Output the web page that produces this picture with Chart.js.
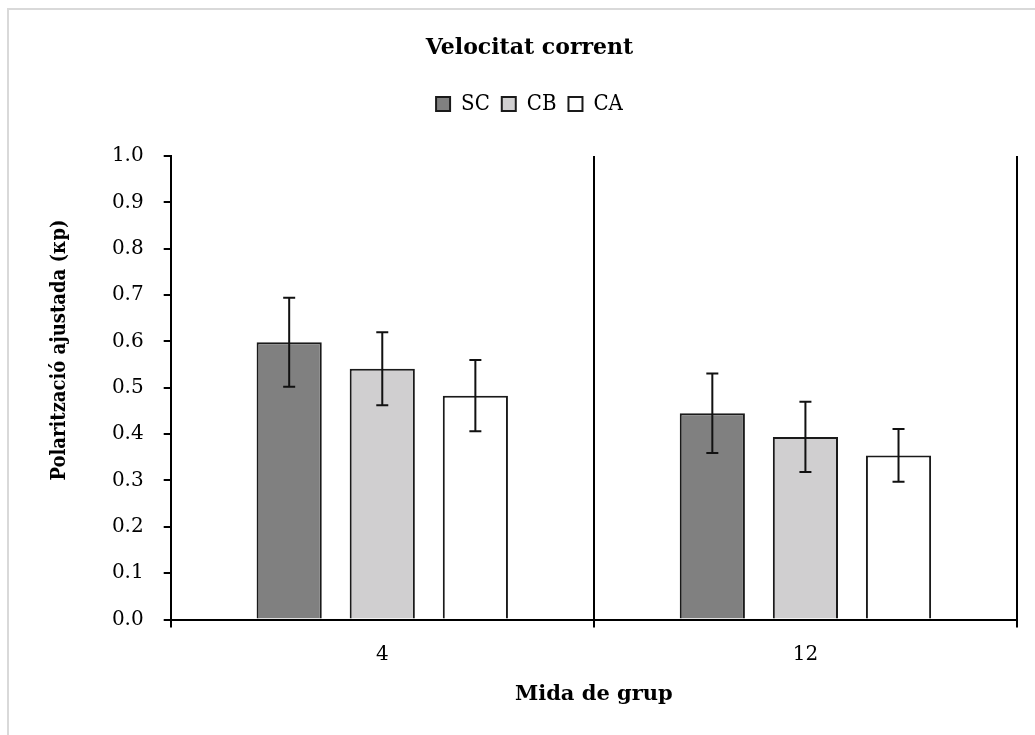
<!DOCTYPE html>
<html>
<head>
<meta charset="utf-8">
<script src="https://cdn.jsdelivr.net/npm/chart.js@4.4.1/dist/chart.umd.min.js"></script>
<style>
  html, body { margin: 0; padding: 0; background: #ffffff; }
  #wrap { width: 1035px; height: 735px; position: relative; }
</style>
</head>
<body>
<div id="wrap"><canvas id="chart"></canvas></div>
<script>
// Group sizes on the x axis
const categories = ['4', '12'];
// Series (conditions)
const seriesNames = ['SC', 'CB', 'CA'];
// Adjusted polarization means and their error margins
const scValues = [0.598, 0.445];
const scErrors = [0.096, 0.086];
const cbValues = [0.541, 0.394];
const cbErrors = [0.079, 0.076];
const caValues = [0.483, 0.354];
const caErrors = [0.077, 0.057];
// Texts
const chartTitle = 'Velocitat corrent';
const xTitle = 'Mida de grup';
const yTitle = 'Polarització ajustada (κp)';
const yMin = 0, yMax = 1, yStep = 0.1;

const SERIF = '"DejaVu Serif", "Liberation Serif", serif';
const SERIF_NARROW = '"DejaVu Serif Condensed", "DejaVu Serif", serif';

// White background and thin grey outer frame
const framePlugin = {
  id: 'frame',
  beforeDraw(chart) {
    const ctx = chart.ctx;
    ctx.save();
    ctx.fillStyle = '#ffffff';
    ctx.fillRect(0, 0, chart.width, chart.height);
    ctx.strokeStyle = '#d9d9d9';
    ctx.lineWidth = 2;
    ctx.strokeRect(8, 9, chart.width + 50, chart.height + 50);
    ctx.restore();
  }
};

// Vertical error bars with caps
const errorBarPlugin = {
  id: 'errorBars',
  afterDatasetsDraw(chart) {
    const ctx = chart.ctx;
    const yScale = chart.scales.y;
    ctx.save();
    ctx.strokeStyle = '#111111';
    ctx.lineWidth = 2;
    chart.data.datasets.forEach((ds, i) => {
      const meta = chart.getDatasetMeta(i);
      if (meta.hidden) return;
      meta.data.forEach((bar, j) => {
        const v = ds.data[j], e = ds.errors[j];
        const yTop = yScale.getPixelForValue(v + e);
        const yBot = yScale.getPixelForValue(v - e);
        const x = bar.x;
        ctx.beginPath();
        ctx.moveTo(x, yTop); ctx.lineTo(x, yBot);
        ctx.moveTo(x - 6, yTop); ctx.lineTo(x + 6, yTop);
        ctx.moveTo(x - 6, yBot); ctx.lineTo(x + 6, yBot);
        ctx.stroke();
      });
    });
    ctx.restore();
  }
};

// Rotated y-axis title
const yTitlePlugin = {
  id: 'yTitle',
  afterDraw(chart, args, opts) {
    const ctx = chart.ctx;
    ctx.save();
    ctx.translate(opts.x, opts.y);
    ctx.rotate(-Math.PI / 2);
    ctx.font = 'bold ' + opts.size + 'px ' + SERIF_NARROW;
    ctx.fillStyle = '#000000';
    ctx.textAlign = 'center';
    ctx.textBaseline = 'middle';
    ctx.fillText(opts.text, 0, 0);
    ctx.restore();
  }
};

const fills = ['#808080', '#d0cfd0', '#ffffff'];
const valueSets = [scValues, cbValues, caValues];
const errorSets = [scErrors, cbErrors, caErrors];

const datasets = seriesNames.map((name, i) => ({
  label: name,
  data: valueSets[i],
  errors: errorSets[i],
  backgroundColor: fills[i],
  borderColor: '#1a1a1a',
  borderWidth: 2,
  borderSkipped: 'start',
  categoryPercentage: 0.66,
  barPercentage: 0.70
}));

new Chart(document.getElementById('chart'), {
  type: 'bar',
  data: { labels: categories, datasets },
  plugins: [framePlugin, errorBarPlugin, yTitlePlugin],
  options: {
    responsive: true,
    maintainAspectRatio: false,
    animation: false,
    devicePixelRatio: 1,
    layout: { padding: { left: 42, right: 18, top: 0, bottom: 0 } },
    plugins: {
      title: {
        display: true,
        text: chartTitle,
        color: '#000000',
        font: { family: SERIF, size: 22, weight: 'bold', lineHeight: 1.2 },
        padding: { top: 35, bottom: 19.6 }
      },
      legend: {
        display: true,
        position: 'top',
        labels: {
          color: '#000000',
          font: { family: SERIF_NARROW, size: 22 },
          boxWidth: 14,
          boxHeight: 14,
          padding: 12
        }
      },
      // empty block placed below the legend to space it from the plot
      subtitle: {
        display: true,
        text: '',
        weight: 500,
        position: 'top',
        font: { size: 19, lineHeight: 1 },
        padding: { top: 0, bottom: 12 }
      },
      yTitle: { text: yTitle, x: 60, y: 350, size: 20 },
      tooltip: { enabled: false }
    },
    scales: {
      x: {
        offset: true,
        grid: {
          display: true,
          offset: true,
          drawOnChartArea: true,
          drawTicks: true,
          tickLength: 8,
          color: '#000000',
          lineWidth: 2
        },
        border: { display: true, color: '#000000', width: 2 },
        ticks: { color: '#000000', font: { family: SERIF, size: 20 }, padding: 15 },
        title: {
          display: true,
          text: xTitle,
          color: '#000000',
          font: { family: SERIF, size: 21, weight: 'bold', lineHeight: 1.2 },
          padding: { top: 0, bottom: 28 }
        },
        afterFit(scale) { scale.height = 115.5; }
      },
      y: {
        min: yMin,
        max: yMax,
        grid: {
          display: true,
          drawOnChartArea: false,
          drawTicks: true,
          tickLength: 7,
          color: '#000000',
          lineWidth: 2
        },
        border: { display: true, color: '#000000', width: 2 },
        ticks: {
          stepSize: yStep,
          color: '#000000',
          font: { family: SERIF, size: 20 },
          padding: 20,
          callback: (v) => Number(v).toFixed(1)
        },
        afterFit(scale) { scale.width = 128.7; }
      }
    }
  }
});
</script>
</body>
</html>
